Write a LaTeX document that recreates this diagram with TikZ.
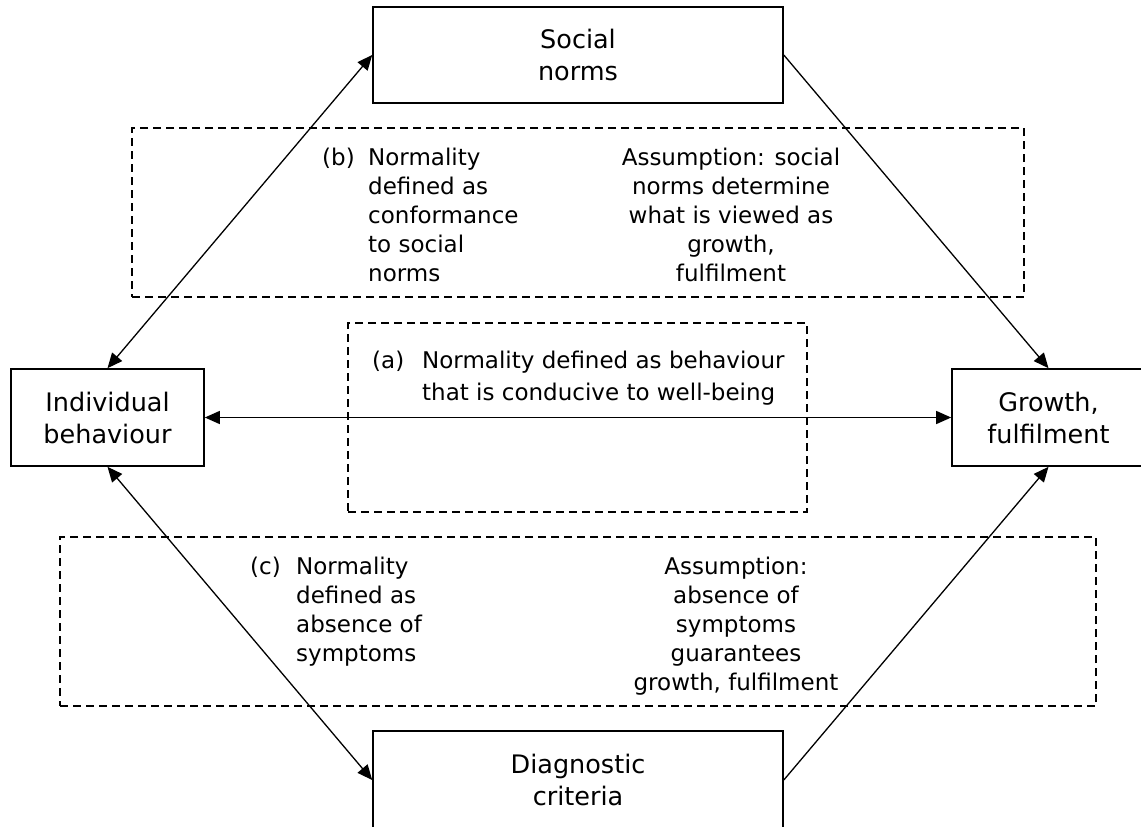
\documentclass[tikz,border=0pt]{standalone}
\usepackage{fontspec}
\setmainfont{DejaVu Sans}
\usetikzlibrary{arrows.meta}
\begin{document}
\begin{tikzpicture}[x=1pt,y=-1pt,
  lbl/.style={draw, line width=1.6pt, inner sep=0pt, align=center,
    font=\fontsize{25.5}{32}\selectfont},
  dbox/.style={draw, dash pattern=on 8pt off 5pt, line width=1.4pt, inner sep=0pt},
  conn/.style={line width=1.3pt},
  fwd/.style={-{Triangle[length=15pt,width=13pt]}},
  dbl/.style={{Triangle[length=15pt,width=13pt]}-{Triangle[length=15pt,width=13pt]}},
  note/.style={anchor=base west, inner sep=0pt, font=\fontsize{23}{29}\selectfont},
]
\useasboundingbox (0,0) rectangle (1141,827);

% dashed annotation frames
\node[dbox, minimum width=892pt, minimum height=169pt] (bnote) at (578,212.5) {};
\node[dbox, minimum width=459pt, minimum height=189pt] (anote) at (577.5,417.5) {};
\node[dbox, minimum width=1036pt, minimum height=169pt] (cnote) at (578,621.5) {};

% main boxes
\node[lbl, minimum width=410pt, minimum height=96pt] (soc) at (578,55) {Social\\norms};
\node[lbl, minimum width=193pt, minimum height=97pt] (ind) at (107.5,417.5) {Individual\\behaviour};
\node[lbl, minimum width=193pt, minimum height=97pt] (gro) at (1048.5,417.5) {Growth,\\fulfilment};
\node[lbl, minimum width=410pt, minimum height=98pt] (dia) at (578,780) {Diagnostic\\criteria};

% (a)
\node[note] (alab) at (372,368) {(a)};
\node[note] (atxt) at (422,368) {\parbox[t]{380pt}{\raggedright\fontsize{23}{32}\selectfont
  Normality defined as behaviour\\that is conducive to well-being}};

% (b)
\node[note] (blab) at (322,165) {(b)};
\node[note] (btxt) at (368,165) {\parbox[t]{200pt}{\raggedright
  Normality\\defined as\\conformance\\to social\\norms}};
\node[note, anchor=base] (bass) at (731,165) {\parbox[t]{260pt}{\centering
  Assumption: social\\norms determine\\what is viewed as\\growth,\\fulfilment}};

% (c)
\node[note] (clab) at (250,574) {(c)};
\node[note] (ctxt) at (296,574) {\parbox[t]{200pt}{\raggedright
  Normality\\defined as\\absence of\\symptoms}};
\node[note, anchor=base] (cass) at (736,574) {\parbox[t]{260pt}{\centering
  Assumption:\\absence of\\symptoms\\guarantees\\growth, fulfilment}};

% connectors
\draw[conn, dbl] (ind.north) -- (soc.west);
\draw[conn, dbl] (ind.east) -- (gro.west);
\draw[conn, dbl] (ind.south) -- (dia.west);
\draw[conn, fwd] (soc.east) -- (gro.north);
\draw[conn, fwd] (dia.east) -- (gro.south);
\end{tikzpicture}
\end{document}
